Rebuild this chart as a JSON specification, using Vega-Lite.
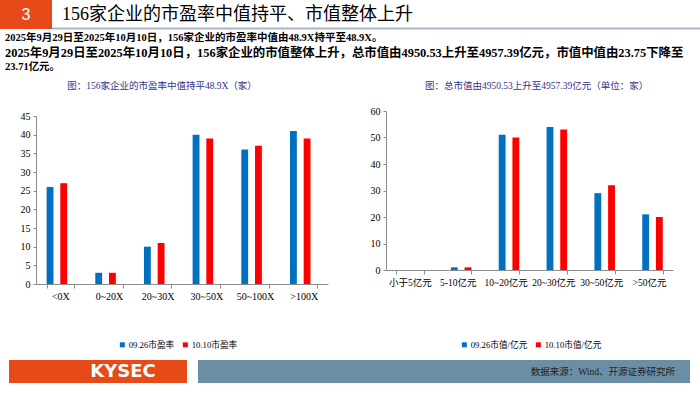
{
  "$schema": "https://vega.github.io/schema/vega-lite/v6.json",
  "padding": 0,
  "spacing": 0,
  "background": "white",
  "datasets": {
    "pe": [
      {"cat": "<0X", "series": "09.26市盈率", "value": 26},
      {"cat": "<0X", "series": "10.10市盈率", "value": 27},
      {"cat": "0~20X", "series": "09.26市盈率", "value": 3},
      {"cat": "0~20X", "series": "10.10市盈率", "value": 3},
      {"cat": "20~30X", "series": "09.26市盈率", "value": 10},
      {"cat": "20~30X", "series": "10.10市盈率", "value": 11},
      {"cat": "30~50X", "series": "09.26市盈率", "value": 40},
      {"cat": "30~50X", "series": "10.10市盈率", "value": 39},
      {"cat": "50~100X", "series": "09.26市盈率", "value": 36},
      {"cat": "50~100X", "series": "10.10市盈率", "value": 37},
      {"cat": ">100X", "series": "09.26市盈率", "value": 41},
      {"cat": ">100X", "series": "10.10市盈率", "value": 39}
    ],
    "mv": [
      {"cat": "小于5亿元", "series": "09.26市值/亿元", "value": 0},
      {"cat": "小于5亿元", "series": "10.10市值/亿元", "value": 0},
      {"cat": "5-10亿元", "series": "09.26市值/亿元", "value": 1},
      {"cat": "5-10亿元", "series": "10.10市值/亿元", "value": 1},
      {"cat": "10~20亿元", "series": "09.26市值/亿元", "value": 51},
      {"cat": "10~20亿元", "series": "10.10市值/亿元", "value": 50},
      {"cat": "20~30亿元", "series": "09.26市值/亿元", "value": 54},
      {"cat": "20~30亿元", "series": "10.10市值/亿元", "value": 53},
      {"cat": "30~50亿元", "series": "09.26市值/亿元", "value": 29},
      {"cat": "30~50亿元", "series": "10.10市值/亿元", "value": 32},
      {"cat": ">50亿元", "series": "09.26市值/亿元", "value": 21},
      {"cat": ">50亿元", "series": "10.10市值/亿元", "value": 20}
    ]
  },
  "config": {
    "view": {"stroke": null},
    "font": "Liberation Serif, Noto Sans CJK SC",
    "axis": {
      "grid": false,
      "domainColor": "#8c8c8c",
      "tickColor": "#8c8c8c",
      "labelColor": "#000000",
      "labelFont": "Liberation Serif, Noto Sans CJK SC",
      "labelFontSize": 10,
      "tickSize": 3,
      "labelPadding": 3
    },
    "title": {
      "font": "Liberation Serif, Noto Sans CJK SC",
      "fontSize": 9.5,
      "fontWeight": "normal",
      "color": "#33338A"
    },
    "legend": {
      "labelFont": "Liberation Serif, Noto Sans CJK SC",
      "labelFontSize": 8.7,
      "labelColor": "#000000",
      "symbolType": "square",
      "symbolSize": 25,
      "symbolStrokeWidth": 0,
      "labelOffset": 2,
      "columnPadding": 6
    },
    "text": {"font": "Liberation Serif, Noto Sans CJK SC", "fontSize": 10.5, "fontWeight": "bold", "color": "#000000", "align": "left", "baseline": "middle"}
  },
  "vconcat": [
    {
      "width": 664,
      "height": 80,
      "data": {"values": [{}]},
      "encoding": {
        "x": {"datum": 5, "type": "quantitative", "scale": {"domain": [36, 700]}, "axis": null},
        "y": {"datum": 53, "type": "quantitative", "scale": {"domain": [0, 80], "reverse": true}, "axis": null}
      },
      "layer": [
        {
          "mark": {"type": "rect", "color": "#E64A19"},
          "encoding": {
            "x": {"datum": 0, "type": "quantitative"},
            "x2": {"datum": 52},
            "y": {"datum": 0, "type": "quantitative"},
            "y2": {"datum": 29}
          }
        },
        {
          "mark": {"type": "rule", "color": "#A9B6C4", "strokeWidth": 2},
          "encoding": {
            "x": {"datum": 52, "type": "quantitative"},
            "x2": {"datum": 700},
            "y": {"datum": 28.5, "type": "quantitative"}
          }
        },
        {
          "mark": {"type": "text", "color": "white", "font": "Liberation Sans", "fontWeight": "normal", "fontSize": 16, "align": "center"},
          "encoding": {
            "x": {"datum": 26, "type": "quantitative"},
            "y": {"datum": 15, "type": "quantitative"},
            "text": {"value": "3"}
          }
        },
        {
          "mark": {"type": "text", "fontSize": 18, "fontWeight": "normal"},
          "encoding": {
            "x": {"datum": 62, "type": "quantitative"},
            "y": {"datum": 15, "type": "quantitative"},
            "text": {"value": "156家企业的市盈率中值持平、市值整体上升"}
          }
        },
        {
          "mark": {"type": "text"},
          "encoding": {
            "y": {"datum": 38, "type": "quantitative"},
            "text": {"value": "2025年9月29日至2025年10月10日，156家企业的市盈率中值由48.9X持平至48.9X。"}
          }
        },
        {
          "mark": {"type": "text", "fontSize": 12.4},
          "encoding": {
            "text": {"value": "2025年9月29日至2025年10月10日，156家企业的市值整体上升，总市值由4950.53上升至4957.39亿元，市值中值由23.75下降至"}
          }
        },
        {
          "mark": {"type": "text"},
          "encoding": {
            "y": {"datum": 67, "type": "quantitative"},
            "text": {"value": "23.71亿元。"}
          }
        }
      ]
    },
    {
      "hconcat": [
        {
          "width": 292,
          "height": 173,
          "title": {"text": "图：156家企业的市盈率中值持平48.9X（家）", "offset": 21, "dx": -20},
          "data": {"name": "pe"},
          "mark": {"type": "bar"},
          "encoding": {
            "x": {
              "field": "cat", "type": "nominal",
              "sort": ["<0X", "0~20X", "20~30X", "30~50X", "50~100X", ">100X"],
              "scale": {"paddingInner": 0.437, "paddingOuter": 0.218},
              "axis": {"title": null, "labelAngle": 0, "tickBand": "extent", "tickSize": 4, "labelPadding": 3}
            },
            "xOffset": {"field": "series", "type": "nominal", "sort": ["09.26市盈率", "10.10市盈率"]},
            "y": {
              "field": "value", "type": "quantitative",
              "scale": {"domain": [0, 46.34], "nice": false},
              "axis": {"values": [0, 5, 10, 15, 20, 25, 30, 35, 40, 45], "title": " ", "titlePadding": 8, "titleFontSize": 10, "domainDash": [168, 20]}
            },
            "color": {
              "field": "series", "type": "nominal",
              "scale": {"domain": ["09.26市盈率", "10.10市盈率"], "range": ["#0070C0", "#FF0000"]},
              "legend": {"orient": "none", "legendX": 82, "legendY": 229, "direction": "horizontal", "title": null}
            }
          }
        },
        {
          "width": 287,
          "height": 159,
          "title": {"text": "图：总市值由4950.53上升至4957.39亿元（单位：家）", "offset": 16, "dx": 7},
          "data": {"name": "mv"},
          "mark": {"type": "bar"},
          "encoding": {
            "x": {
              "field": "cat", "type": "nominal",
              "sort": ["小于5亿元", "5-10亿元", "10~20亿元", "20~30亿元", "30~50亿元", ">50亿元"],
              "scale": {"paddingInner": 0.427, "paddingOuter": 0.2135},
              "axis": {"title": null, "labelAngle": 0, "tickBand": "extent", "tickSize": 4, "labelPadding": 3, "labelFontSize": 9.5}
            },
            "xOffset": {"field": "series", "type": "nominal", "sort": ["09.26市值/亿元", "10.10市值/亿元"]},
            "y": {
              "field": "value", "type": "quantitative",
              "scale": {"domain": [0, 60], "nice": false},
              "axis": {"values": [0, 10, 20, 30, 40, 50, 60], "title": null}
            },
            "color": {
              "field": "series", "type": "nominal",
              "scale": {"domain": ["09.26市值/亿元", "10.10市值/亿元"], "range": ["#0070C0", "#FF0000"]},
              "legend": {"orient": "none", "legendX": 74, "legendY": 229, "direction": "horizontal", "title": null}
            }
          }
        }
      ],
      "spacing": 42,
      "resolve": {"scale": {"color": "independent"}, "legend": {"color": "independent"}}
    },
    {
      "width": 664,
      "height": 45,
      "data": {"values": [{}]},
      "encoding": {
        "x": {"datum": 9, "type": "quantitative", "scale": {"domain": [36, 700]}, "axis": null},
        "y": {"datum": 10, "type": "quantitative", "scale": {"domain": [0, 45], "reverse": true}, "axis": null}
      },
      "layer": [
        {
          "mark": {"type": "rect", "color": "#E64A19"},
          "encoding": {
            "x2": {"datum": 187},
            "y2": {"datum": 33}
          }
        },
        {
          "mark": {"type": "rect", "color": "#6A8FA4"},
          "encoding": {
            "x": {"datum": 198, "type": "quantitative"},
            "x2": {"datum": 690},
            "y2": {"datum": 33}
          }
        },
        {
          "mark": {"type": "text", "color": "white", "font": "DejaVu Sans", "fontWeight": "bold", "fontSize": 18, "align": "center"},
          "encoding": {
            "x": {"datum": 123, "type": "quantitative"},
            "y": {"datum": 21.5, "type": "quantitative"},
            "text": {"value": "KYSEC"}
          }
        },
        {
          "mark": {"type": "text", "color": "#222222", "fontWeight": "normal", "fontSize": 9.5, "align": "right"},
          "encoding": {
            "x": {"datum": 675, "type": "quantitative"},
            "y": {"datum": 21.5, "type": "quantitative"},
            "text": {"value": "数据来源：Wind、开源证券研究所"}
          }
        }
      ]
    }
  ]
}
